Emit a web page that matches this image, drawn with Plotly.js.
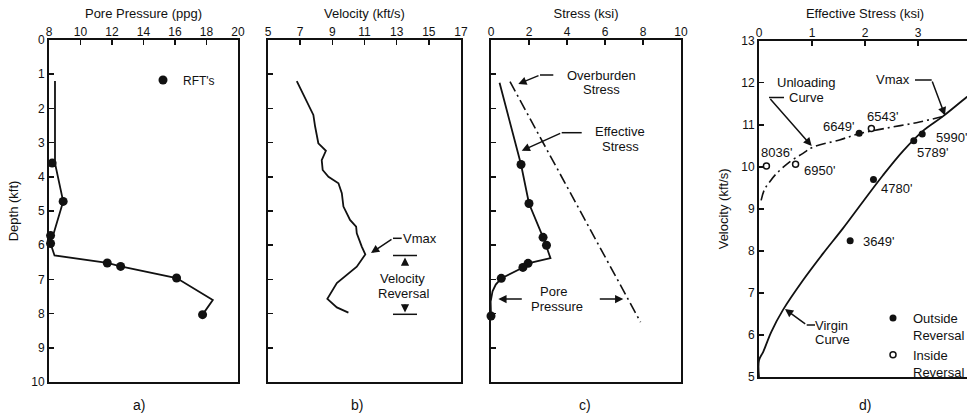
<!DOCTYPE html>
<html><head><meta charset="utf-8">
<script src="https://cdn.plot.ly/plotly-3.0.1.min.js"></script>
<style>html,body{margin:0;padding:0;overflow:hidden;background:#fff}#chart{width:980px;height:418px}</style>
</head><body><div id="chart"></div>
<script>
// ---------- Panel a: pore pressure (ppg) vs depth (kft) ----------
const ppLineDepth = [1.2, 3.6, 4.72, 5.65, 5.72, 5.95, 6.3, 6.52, 6.62, 6.96, 7.6, 8.03];
const ppLinePpg   = [8.38, 8.38, 8.9, 8.3, 8.1, 8.1, 8.35, 11.7, 12.55, 16.1, 18.4, 17.75];
const rftDepth = [3.6, 4.72, 5.72, 5.95, 6.52, 6.62, 6.96, 8.03];
const rftPpg   = [8.2, 8.9, 8.1, 8.1, 11.7, 12.55, 16.1, 17.75];

// ---------- Panel b: velocity (kft/s) vs depth ----------
const velDepth = [1.2, 1.61, 2.19, 2.53, 3.02, 3.12, 3.24, 3.51, 3.8, 4.0, 4.19, 4.48, 4.87, 5.07, 5.26, 5.46, 5.65, 6.04, 6.27, 6.63, 6.87, 7.11, 7.57, 7.65, 7.82, 7.97];
const velKfts  = [6.79, 7.2, 7.82, 7.93, 8.13, 8.34, 8.6, 8.34, 8.4, 8.76, 9.38, 9.59, 9.69, 9.9, 10.1, 10.48, 10.52, 10.83, 11.05, 10.52, 9.9, 9.28, 8.69, 8.86, 9.28, 10.0];

// ---------- Panel c: stress (ksi) vs depth ----------
const effLineDepth = [1.25, 3.64, 4.78, 5.85, 6.38, 6.53, 6.65, 6.97, 7.15, 7.35, 7.65, 8.07];
const effLineKsi   = [0.45, 1.58, 2.0, 2.8, 3.13, 1.95, 1.68, 0.54, 0.25, 0.08, -0.02, 0.0];
const effPtsDepth = [3.64, 4.78, 5.77, 6.0, 6.53, 6.65, 6.97, 8.07];
const effPtsKsi   = [1.58, 2.0, 2.74, 2.92, 1.95, 1.68, 0.54, 0.0];
const obDepth = [1.22, 4.5, 8.25];
const obKsi   = [1.0, 4.22, 7.87];

// ---------- Panel d: velocity (kft/s) vs effective stress (ksi) ----------
const virginStress = [0.0, 0.0, 0.08, 0.23, 0.45, 0.83, 1.21, 1.58, 1.96, 2.34, 2.72, 3.09, 3.47, 3.91, 4.1];
const virginVel    = [5.0, 5.4, 5.6, 6.07, 6.59, 7.30, 7.94, 8.53, 9.17, 9.80, 10.38, 10.85, 11.2, 11.65, 11.85];
const unloadStress = [0.04, 0.1, 0.2, 0.33, 0.58, 0.83, 1.02, 1.52, 1.87, 2.4, 2.97, 3.48];
const unloadVel    = [9.2, 9.45, 9.64, 9.84, 10.12, 10.32, 10.47, 10.64, 10.78, 10.92, 11.05, 11.2];
const outsideStress = [1.89, 3.08, 2.92, 2.16, 1.72];
const outsideVel    = [10.80, 10.78, 10.62, 9.70, 8.24];
const outsideLabels = ["6649'", "5990'", "5789'", "4780'", "3649'"];
const insideStress = [2.12, 0.14, 0.69];
const insideVel    = [10.91, 10.02, 10.06];
const insideLabels = ["6543'", "8036'", "6950'"];

// ---------- tick values ----------
const ppTicks = [8, 10, 12, 14, 16, 18, 20];
const velTicks = [5, 7, 9, 11, 13, 15, 17];
const stressTicks = [0, 2, 4, 6, 8, 10];
const depthTicks = [0, 1, 2, 3, 4, 5, 6, 7, 8, 9, 10];
const effTicks = [0, 1, 2, 3, 4];
const velTicksD = [5, 6, 7, 8, 9, 10, 11, 12, 13];

// label offsets (pixels) for panel d point labels
const outsideOffsets = [[-21, -7], [29, 3], [19, 12], [23, 9], [28, 1]];
const insideOffsets  = [[11, -12], [10, -13], [24, 6]];

// ---------- layout helpers ----------
const W = 980, H = 418;
const FONT = 'Arial, "Liberation Sans", Helvetica, sans-serif';
const INK = '#111';
const fx = p => p / W;
const fy = p => 1 - p / H;

const axisBase = {
  showline: true, mirror: true, linecolor: INK, linewidth: 2,
  ticks: 'inside', ticklen: 5, tickwidth: 1.5, tickcolor: INK,
  showgrid: false, zeroline: false, fixedrange: true,
  tickfont: {family: FONT, size: 12, color: INK}
};
function xa(d0, d1, range, ticks, title, anchor) {
  return Object.assign({}, axisBase, {
    domain: [fx(d0), fx(d1)], range: range, tickvals: ticks, side: 'top', anchor: anchor,
    ticklabelstandoff: -3,
    title: {text: title, font: {family: FONT, size: 13, color: INK}, standoff: 4}
  });
}
function ya(t, b, range, ticks, anchor, showLabels, title) {
  return Object.assign({}, axisBase, {
    domain: [fy(b), fy(t)], range: range, tickvals: ticks, anchor: anchor,
    showticklabels: showLabels,
    title: {text: title || '', font: {family: FONT, size: 13, color: INK}, standoff: 10}
  });
}
function txt(text, px, py, size) {
  return {text: text, xref: 'paper', yref: 'paper', x: fx(px), y: fy(py), xanchor: 'center', yanchor: 'middle',
          showarrow: false, font: {family: FONT, size: size || 13, color: INK}};
}
function arr(hx, hy, tx, ty) {
  return {text: '', xref: 'paper', yref: 'paper', x: fx(hx), y: fy(hy), ax: tx - hx, ay: ty - hy,
          showarrow: true, arrowhead: 2, arrowsize: 1.1, arrowwidth: 1.5, arrowcolor: INK, standoff: 0, startstandoff: 0};
}
function seg(x0, y0, x1, y1) {
  return {type: 'line', xref: 'paper', yref: 'paper', x0: fx(x0), y0: fy(y0), x1: fx(x1), y1: fy(y1),
          line: {color: INK, width: 1.5}};
}

const lineStyle = {color: INK, width: 1.8};
const traces = [
  {x: ppLinePpg, y: ppLineDepth, xaxis: 'x', yaxis: 'y', mode: 'lines', line: lineStyle, showlegend: false, hoverinfo: 'skip'},
  {x: rftPpg, y: rftDepth, xaxis: 'x', yaxis: 'y', mode: 'markers', name: "RFT's", cliponaxis: false,
   marker: {color: INK, size: 9}, legend: 'legend'},
  {x: velKfts, y: velDepth, xaxis: 'x2', yaxis: 'y2', mode: 'lines', line: lineStyle, showlegend: false},
  {x: obKsi, y: obDepth, xaxis: 'x3', yaxis: 'y3', mode: 'lines', line: {color: INK, width: 1.6, dash: '11px,4px,2px,4px'}, showlegend: false},
  {x: effLineKsi, y: effLineDepth, xaxis: 'x3', yaxis: 'y3', mode: 'lines', line: lineStyle, showlegend: false, cliponaxis: false},
  {x: effPtsKsi, y: effPtsDepth, xaxis: 'x3', yaxis: 'y3', mode: 'markers', marker: {color: INK, size: 9}, showlegend: false, cliponaxis: false},
  {x: virginStress, y: virginVel, xaxis: 'x4', yaxis: 'y4', mode: 'lines', line: {color: INK, width: 1.8, shape: 'spline'}, showlegend: false},
  {x: unloadStress, y: unloadVel, xaxis: 'x4', yaxis: 'y4', mode: 'lines', line: {color: INK, width: 1.6, dash: '10px,4px,2px,4px', shape: 'spline'}, showlegend: false},
  {x: outsideStress, y: outsideVel, xaxis: 'x4', yaxis: 'y4', mode: 'markers', name: 'Outside<br>Reversal',
   marker: {color: INK, size: 7}, legend: 'legend2'},
  {x: insideStress, y: insideVel, xaxis: 'x4', yaxis: 'y4', mode: 'markers', name: 'Inside<br>Reversal',
   marker: {color: '#fff', size: 6, line: {color: INK, width: 1.5}}, legend: 'legend2'}
];

const annotations = [
  txt('a)', 139, 405, 14), txt('b)', 357, 405, 14), txt('c)', 585, 405, 14), txt('d)', 865, 405, 14),
  // panel b
  txt('Vmax', 420, 238.5), arr(371, 253, 393, 238.3),
  txt('Velocity', 402, 278), txt('Reversal', 403, 293),
  arr(405, 257.5, 405, 266.5), arr(405, 312.5, 405, 303),
  // panel c
  txt('Overburden', 601.7, 75), txt('Stress', 601.7, 89.5), arr(518.3, 84, 540, 75),
  txt('Effective', 620, 131.7), txt('Stress', 620, 146.5), arr(521.7, 150.7, 561.7, 132.7),
  txt('Pore', 553.3, 291.7), txt('Pressure', 556.7, 306.7),
  arr(498.3, 299, 523.3, 299), arr(623.3, 299, 598.3, 299),
  // panel d
  txt('Unloading', 806.7, 82), txt('Curve', 806.7, 97.5), arr(811.7, 146, 769, 97.5),
  txt('Vmax', 893.3, 79), arr(945, 115.5, 931.7, 80),
  txt('Virgin', 831.7, 325), txt('Curve', 832.3, 339.5), arr(785, 309, 806.7, 325)
];
outsideStress.forEach((s, i) => annotations.push({text: outsideLabels[i], xref: 'x4', yref: 'y4', x: s, y: outsideVel[i],
  xshift: outsideOffsets[i][0], yshift: -outsideOffsets[i][1], showarrow: false, font: {family: FONT, size: 13, color: INK}}));
insideStress.forEach((s, i) => annotations.push({text: insideLabels[i], xref: 'x4', yref: 'y4', x: s, y: insideVel[i],
  xshift: insideOffsets[i][0], yshift: -insideOffsets[i][1], showarrow: false, font: {family: FONT, size: 13, color: INK}}));

const shapes = [
  seg(393, 255.5, 417, 255.5), seg(393, 314.3, 417, 314.3), seg(393, 238.3, 401.7, 238.3),
  seg(540, 75, 553.3, 75), seg(561.7, 132.7, 581.7, 132.7),
  seg(769, 97.5, 784, 97.5), seg(915, 80, 931.7, 80), seg(806.7, 325, 815, 325)
];

const layout = {
  width: W, height: H, margin: {l: 0, r: 0, t: 0, b: 0},
  paper_bgcolor: '#fff', plot_bgcolor: '#fff',
  font: {family: FONT, size: 12, color: INK},
  xaxis:  xa(49, 238, [8, 20], ppTicks, 'Pore Pressure (ppg)', 'y'),
  yaxis:  ya(40, 382, [10, 0], depthTicks, 'x', true, 'Depth (kft)'),
  xaxis2: xa(268, 461, [5, 17], velTicks, 'Velocity (kft/s)', 'y2'),
  yaxis2: ya(40, 382, [10, 0], depthTicks, 'x2', false),
  xaxis3: xa(491, 681, [0, 10], stressTicks, 'Stress (ksi)', 'y3'),
  yaxis3: ya(40, 382, [10, 0], depthTicks, 'x3', false),
  xaxis4: xa(759, 971, [0, 4], effTicks, 'Effective Stress (ksi)', 'y4'),
  yaxis4: ya(40.7, 377, [5, 13], velTicksD, 'x4', true, 'Velocity (kft/s)'),
  legend: {x: fx(143), y: fy(80), xanchor: 'left', yanchor: 'middle', bgcolor: 'rgba(0,0,0,0)',
           font: {family: FONT, size: 12, color: INK}, itemclick: false, itemdoubleclick: false},
  legend2: {x: fx(873), y: fy(303), xanchor: 'left', yanchor: 'top', bgcolor: 'rgba(0,0,0,0)', valign: 'top',
           font: {family: FONT, size: 13, color: INK}, itemclick: false, itemdoubleclick: false},
  annotations: annotations, shapes: shapes, hovermode: false
};
Plotly.newPlot('chart', traces, layout, {displayModeBar: false, staticPlot: true});
</script></body></html>
